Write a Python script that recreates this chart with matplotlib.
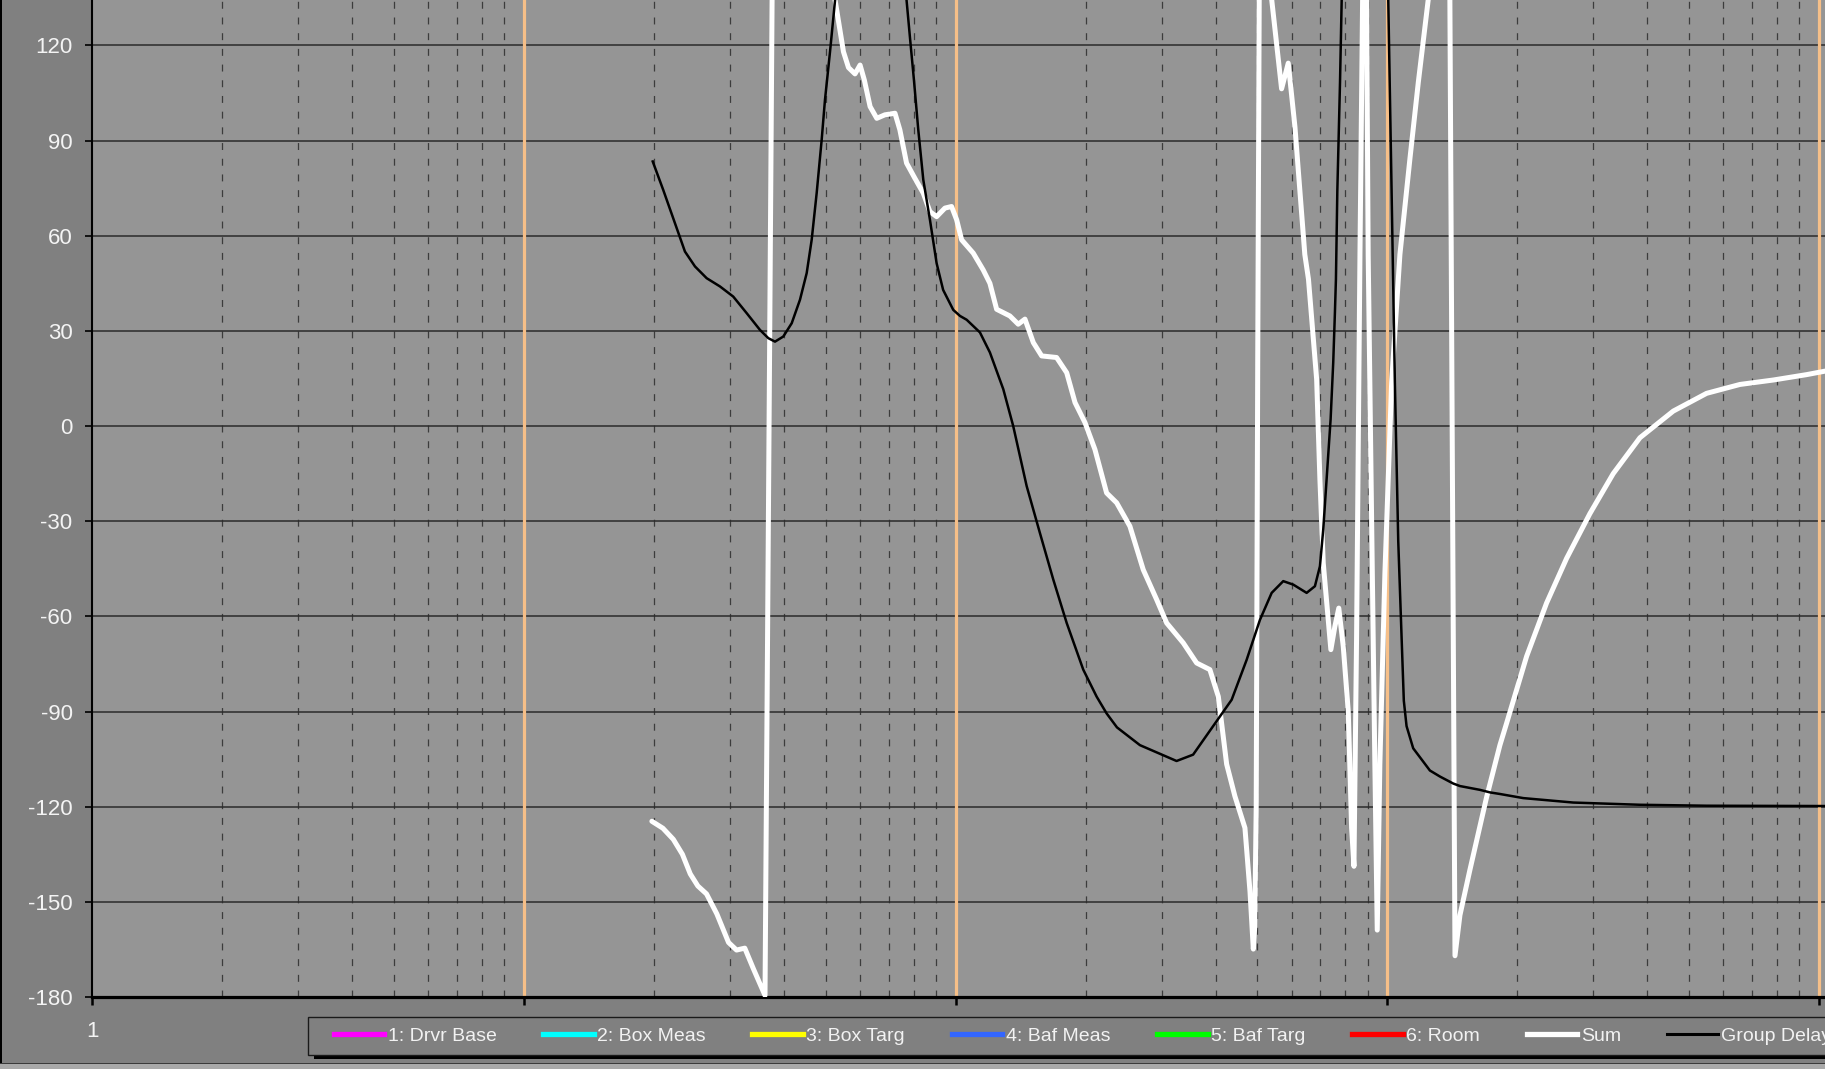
import matplotlib
matplotlib.use('Agg')
import matplotlib.pyplot as plt
from matplotlib.lines import Line2D
from matplotlib.patches import Rectangle
from matplotlib.ticker import LogLocator

plt.rcParams['font.family'] = ['Liberation Sans', 'DejaVu Sans']
plt.rcParams['lines.scale_dashes'] = False
plt.rcParams['axes.unicode_minus'] = False

# ---------------------------------------------------------------------------
# data (frequency in Hz, phase in degrees)
# ---------------------------------------------------------------------------
sum_freq = [19.8, 21.0, 22.2, 23.3, 24.3, 25.3, 26.5, 28.0, 29.8, 31.1, 32.5,
            34.0, 36.2, 37.8, 45.0, 50.0, 52.6, 55.0, 56.5, 58.5, 60.1, 61.5,
            63.4, 65.7, 68.6, 72.4, 74.3, 77.0, 80.5, 84.2, 87.2, 90.4, 94.5,
            97.9, 100.6, 103.3, 109.9, 115.9, 120.1, 124.5, 133.6, 139.7,
            144.8, 151.4, 158.3, 171.4, 180.9, 189.1, 199.4, 210.3, 223.8,
            236.1, 253.4, 272.1, 292.2, 308.3, 336.9, 361.7, 388.2, 406.1,
            424.5, 443.6, 468.0, 480.8, 489.4, 493.0, 497.0, 501.0, 505.0,
            515.0, 530.0, 539.7, 569.0, 589.6, 611.0, 644.0, 656.7, 686.0,
            698.0, 710.6, 740.0, 756.0, 772.0, 790.6, 812.0, 826.6, 837.0,
            848.8, 864.2, 876.5, 885.0, 895.0, 903.0, 919.0, 935.7, 947.7,
            961.0, 987.2, 1023.4, 1069.5, 1128.0, 1179.6, 1244.0, 1320.0,
            1396.0, 1434.6, 1473.0, 1553.0, 1698.0, 1823.0, 1889.0, 2102.0,
            2338.0, 2602.0, 2946.0, 3336.0, 3846.0, 4594.0, 5488.0, 6555.0,
            7831.0, 9357.0, 10320.0]
sum_phase = [-124.6, -126.8, -130.3, -135.0, -141.2, -145.0, -147.5, -153.8,
             -162.8, -165.2, -164.6, -171.0, -179.5, 180.0, 172.0, 152.0,
             134.3, 118.0, 113.0, 111.0, 113.8, 109.0, 100.7, 97.0, 98.1, 98.6,
             93.4, 82.9, 78.1, 73.4, 67.6, 66.0, 68.7, 69.2, 65.0, 58.7, 54.5,
             49.2, 45.0, 36.8, 34.7, 32.1, 33.7, 26.3, 22.1, 21.6, 16.8, 7.4,
             1.1, -7.4, -21.1, -24.2, -31.6, -45.3, -54.7, -62.1, -68.4, -74.7,
             -76.8, -85.3, -106.6, -116.7, -126.7, -146.8, -164.9, -158.0,
             -120.0, 20.0, 134.3, 176.0, 160.0, 134.5, 106.3, 114.4, 94.3,
             54.1, 46.3, 14.7, -16.8, -43.2, -70.5, -63.2, -57.4, -69.5, -90.0,
             -126.7, -138.8, -66.5, 54.0, 134.5, 170.0, 134.5, 54.0, -26.3,
             -106.6, -158.9, -106.6, -46.4, 13.9, 54.1, 84.2, 108.3, 134.5,
             178.0, 134.5, -167.0, -154.2, -140.0, -117.0, -100.6, -93.7,
             -72.6, -55.8, -41.7, -27.6, -15.0, -3.7, 4.7, 10.3, 13.1, 14.5,
             16.2, 17.3]

gd_freq = [19.89, 21.04, 22.4, 23.62, 24.92, 26.52, 28.47, 30.56, 32.82,
           35.24, 36.84, 38.18, 39.9, 41.74, 43.62, 45.21, 46.43, 47.68, 48.97,
           49.84, 51.2, 52.6, 63.0, 77.0, 78.6, 80.1, 81.97, 84.2, 87.24, 90.4,
           93.6, 98.8, 102.4, 106.1, 113.9, 120.1, 129.0, 136.0, 146.1, 156.8,
           168.4, 180.9, 197.6, 212.2, 223.8, 236.5, 267.3, 325.0, 355.0,
           395.0, 436.0, 472.3, 507.0, 539.7, 574.1, 605.6, 650.3, 679.7,
           698.1, 710.6, 723.4, 739.0, 749.4, 756.2, 760.3, 766.0, 777.0,
           784.0, 900.0, 1005.0, 1023.0, 1041.0, 1060.0, 1079.0, 1092.0,
           1108.0, 1148.0, 1255.0, 1324.0, 1421.0, 1473.0, 1639.0, 1729.0,
           1823.0, 2065.0, 2696.0, 3846.0, 5488.0, 10320.0]
gd_value = [83.4, 74.4, 63.9, 55.0, 50.3, 46.6, 44.0, 40.8, 35.6, 30.3, 27.7,
            26.6, 28.2, 32.4, 39.8, 48.2, 58.7, 73.4, 90.2, 102.8, 118.0, 134.3,
            200.0, 134.3, 121.0, 109.1, 93.4, 77.6, 65.0, 51.3, 42.9, 36.6,
            34.7, 33.5, 29.5, 23.2, 11.6, 0.0, -18.9, -33.7, -48.4, -62.1,
            -76.8, -85.3, -90.6, -95.0, -100.6, -105.6, -103.6, -94.6, -86.3,
            -73.7, -61.1, -52.6, -48.9, -50.0, -52.6, -50.5, -44.2, -32.6,
            -16.8, 2.1, 20.0, 35.8, 46.3, 74.2, 108.3, 134.5, 600.0, 134.5,
            74.2, 13.9, -36.3, -66.5, -86.6, -94.6, -101.6, -108.6, -110.5,
            -112.7, -113.5, -114.7, -115.5, -116.0, -117.3, -118.7, -119.4,
            -119.7, -119.8]

series_names = ['1: Drvr Base', '2: Box Meas', '3: Box Targ', '4: Baf Meas',
                '5: Baf Targ', '6: Room', 'Sum', 'Group Delay']
series_colors = ['#FF00FF', '#00FFFF', '#FFFF00', '#3366FF', '#00FF00',
                 '#FF0000', '#FFFFFF', '#000000']

y_ticks = list(range(-180, 121, 30))
x_decades = [1, 10, 100, 1000, 10000]
x_max = 10320
y_top = 134.3

# ---------------------------------------------------------------------------
# figure
# ---------------------------------------------------------------------------
W, H = 1825, 1069
fig = plt.figure(figsize=(W / 100, H / 100), dpi=100, facecolor='#808080')
ax = fig.add_axes([92 / W, 72 / H, 1 - 92 / W, 1 - 72 / H])
ax.set_facecolor('#959595')

ax.set_xscale('log')
ax.set_xlim(1, x_max)
ax.set_ylim(-180, y_top)

# grid: orange decades, dashed minors, dark horizontal lines
ax.set_xticks(x_decades, labels=['1', '', '', '', ''])
ax.xaxis.set_minor_locator(LogLocator(base=10, subs=range(2, 10)))
ax.set_yticks(y_ticks)
ax.set_axisbelow(True)
for dec in x_decades[1:]:
    ax.axvline(dec, color='#F6BF88', linewidth=2.3, zorder=1)
ax.grid(which='minor', axis='x', color='#3c3c3c', linewidth=0.9,
        linestyle=(0, (5, 6.3)))
ax.grid(which='major', axis='y', color='#2a2a2a', linewidth=1.1)

ax.plot(sum_freq, sum_phase, color=series_colors[6], linewidth=3.6,
        solid_joinstyle='round', solid_capstyle='round', zorder=3)
ax.plot(gd_freq, gd_value, color=series_colors[7], linewidth=1.8,
        solid_joinstyle='round', zorder=4)

for side in ['top', 'right']:
    ax.spines[side].set_visible(False)
ax.spines['left'].set_linewidth(1.5)
ax.spines['bottom'].set_linewidth(2.3)
ax.spines['left'].set_color('black')
ax.spines['bottom'].set_color('black')

ax.tick_params(axis='y', which='major', direction='out', length=5, width=1.2,
               pad=9, labelsize=16, labelcolor='#F4F4F4', color='black')
ax.tick_params(axis='x', which='major', direction='out', length=6, width=1.8,
               pad=11, labelsize=16, labelcolor='#F4F4F4', color='black')
ax.tick_params(axis='x', which='minor', length=0)

# legend box with drop shadow (cut by the right edge, as in the original)
px = lambda x, y: (x / W, 1 - y / H)
sx, sy = px(314, 1059)
fig.patches.append(Rectangle((sx, sy), 1.2, 30 / H, transform=fig.transFigure,
                             facecolor='black', edgecolor='none', zorder=1))
bx, by = px(308, 1055)
fig.patches.append(Rectangle((bx, by), 1.2, 38 / H, transform=fig.transFigure,
                             facecolor='#808080', edgecolor='#1a1a1a',
                             linewidth=1.0, zorder=2))

handles = [Line2D([], [], color=c, linewidth=(2.2 if c == '#000000' else 3.8))
           for c in series_colors]
fig.legend(handles, series_names, loc='center left',
           bbox_to_anchor=px(316, 1036), ncol=8, frameon=False,
           fontsize=14, labelcolor='#F2F2F2', handlelength=2.6,
           handletextpad=0.18, columnspacing=2.4, borderpad=0.4)

# figure border details
fig.patches.append(Rectangle((0, 0), 2 / W, 1, transform=fig.transFigure,
                             facecolor='black', edgecolor='none', zorder=1))
fig.patches.append(Rectangle((0, 0), 1, 5 / H, transform=fig.transFigure,
                             facecolor='#A9A9A9', edgecolor='none', zorder=1))
fig.patches.append(Rectangle((0, 5 / H), 1, 1.5 / H, transform=fig.transFigure,
                             facecolor='#3a3a3a', edgecolor='none', zorder=1))

fig.savefig('out.png', dpi=100, facecolor=fig.get_facecolor())
